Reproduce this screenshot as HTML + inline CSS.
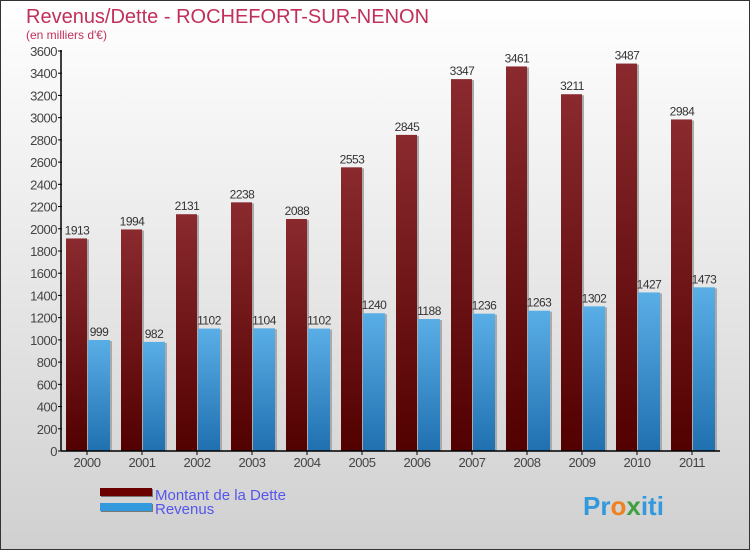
<!DOCTYPE html>
<html><head><meta charset="utf-8"><style>
body{margin:0}
#c{width:750px;height:550px;position:relative;overflow:hidden;box-sizing:border-box;border:1px solid #333;background:linear-gradient(#ffffff,#d0d0d0);font-family:"Liberation Sans",sans-serif}
</style></head><body>
<div id="c">
<svg id="s" width="750" height="550" style="position:absolute;left:-1px;top:-1px">
<defs>
<linearGradient id="gd" x1="0" y1="0" x2="0" y2="1"><stop offset="0" stop-color="#8a2a2e"/><stop offset="1" stop-color="#520000"/></linearGradient>
<linearGradient id="gr" x1="0" y1="0" x2="0" y2="1"><stop offset="0" stop-color="#5aaee6"/><stop offset="1" stop-color="#2070b0"/></linearGradient>
</defs>
<text x="26" y="23" font-size="20" fill="#c0305a">Revenus/Dette - ROCHEFORT-SUR-NENON</text>
<text x="26" y="39" font-size="12" fill="#c0305a">(en milliers d'€)</text>
<g id="g"></g>
<rect x="101" y="489" width="52" height="8" fill="#777" /><rect x="100" y="488" width="52" height="8" fill="#6a0000"/>
<rect x="101" y="504" width="52" height="8" fill="#777" /><rect x="100" y="503" width="52" height="8" fill="#3399dd"/>
<text x="155" y="500" font-size="15" fill="#5555ee">Montant de la Dette</text>
<text x="155" y="514" font-size="15" fill="#5555ee">Revenus</text>
<text x="583" y="515" font-size="26" font-weight="bold" fill="#3399dd"><tspan fill="#3399dd">Pr</tspan><tspan fill="#f08020">o</tspan><tspan fill="#40a040">x</tspan><tspan fill="#3399dd">iti</tspan></text>
</svg>
</div>
<script>
const years=["2000","2001","2002","2003","2004","2005","2006","2007","2008","2009","2010","2011"];
const dette=[1913,1994,2131,2238,2088,2553,2845,3347,3461,3211,3487,2984];
const revenus=[999,982,1102,1104,1102,1240,1188,1236,1263,1302,1427,1473];
const ticks=[0,200,400,600,800,1000,1200,1400,1600,1800,2000,2200,2400,2600,2800,3000,3200,3400,3600];
const NS="http://www.w3.org/2000/svg",g=document.getElementById('g');
const y=v=>451-v*400/3600, x=i=>87+55*i;
function mk(t,a,txt){const e=document.createElementNS(NS,t);for(const k in a)e.setAttribute(k,a[k]);if(txt!==undefined)e.textContent=txt;g.appendChild(e);return e;}
ticks.forEach(t=>{
 const l=mk('line',{x1:58,x2:62,y1:y(t),y2:y(t),stroke:'#000'});
 
 
 const tx=mk('text',{x:57,y:y(t)+5,'font-size':13,'text-anchor':'end',fill:'#444','letter-spacing':'-0.5'},t);
 
 
});
years.forEach((yr,i)=>{
 const c=x(i);
 mk('rect',{x:c-21+2,y:y(dette[i])+1,width:21,height:451-y(dette[i])-1,fill:'#aaa'});
 const b=mk('rect',{x:c-21,y:y(dette[i]),width:21,height:451-y(dette[i]),fill:'url(#gd)'});
 
 
 mk('rect',{x:c+1+2,y:y(revenus[i])+1,width:22,height:451-y(revenus[i])-1,fill:'#aaa'});
 const r=mk('rect',{x:c+1,y:y(revenus[i]),width:22,height:451-y(revenus[i]),fill:'url(#gr)'});
 
 
 const t1=mk('text',{x:c-10,y:y(dette[i])-4,'font-size':12,'text-anchor':'middle',fill:'#333','letter-spacing':'-0.5'},dette[i]);
 
 
 const t2=mk('text',{x:c+12,y:y(revenus[i])-4,'font-size':12,'text-anchor':'middle',fill:'#333','letter-spacing':'-0.5'},revenus[i]);
 
 
 const tk=mk('line',{x1:c,x2:c,y1:451,y2:455,stroke:'#000'});
 
 
 const xl=mk('text',{x:c,y:467,'font-size':13,'text-anchor':'middle',fill:'#444','letter-spacing':'-0.5'},yr);
 
 
});
const ya=mk('line',{x1:61,x2:61,y1:50,y2:451,stroke:'#000','stroke-width':1.5});


const xa=mk('line',{x1:61,x2:720,y1:451,y2:451,stroke:'#000','stroke-width':1.5});


</script>
</body></html>
